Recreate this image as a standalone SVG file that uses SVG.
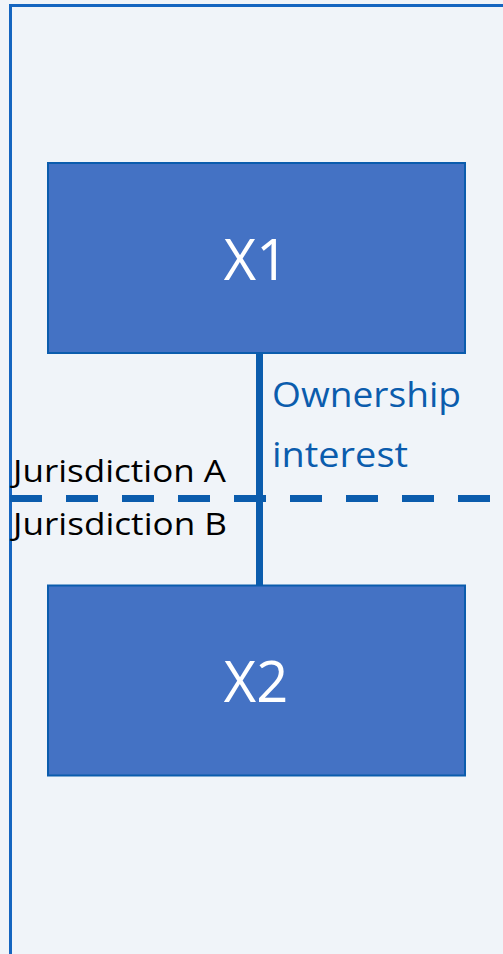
<svg xmlns="http://www.w3.org/2000/svg" width="503" height="954" viewBox="0 0 503 954">
  <style>
    .frame { fill: none; stroke: #1565c0; stroke-width: 3; }
    .box { fill: #4472c4; stroke: #0b5cad; stroke-width: 2; }
    .box-label { font-family: "Open Sans", "Noto Sans", sans-serif; font-size: 56px; fill: #ffffff; text-anchor: middle; }
    .link { stroke: #0b5cad; stroke-width: 7; fill: none; }
    .border-line { stroke: #0b5cad; stroke-width: 7; stroke-dasharray: 32 24; fill: none; }
    .side-label { font-family: "Open Sans", "Noto Sans", sans-serif; font-size: 31px; fill: #000000; }
    .link-label { font-family: "Open Sans", "Noto Sans", sans-serif; font-size: 34px; fill: #0b5cad; }
  </style>
  <rect x="0" y="0" width="503" height="954" fill="#f0f4f9"/>
  <rect class="frame" x="10.5" y="5.5" width="520" height="970"/>

  <g id="connectors">
    <line class="link" x1="259.5" y1="353" x2="259.5" y2="585"/>
    <line class="border-line" x1="10" y1="498.5" x2="503" y2="498.5"/>
  </g>

  <g id="x1">
    <rect class="box" x="48" y="163" width="417" height="190"/>
    <text class="box-label" x="256" y="280">X1</text>
  </g>

  <g id="x2">
    <rect class="box" x="48" y="585.5" width="417" height="190"/>
    <text class="box-label" x="256" y="702">X2</text>
  </g>

  <g id="ownership-label">
    <text class="link-label" x="272" y="407" textLength="189" lengthAdjust="spacingAndGlyphs">Ownership</text>
    <text class="link-label" x="272" y="467" textLength="136" lengthAdjust="spacingAndGlyphs">interest</text>
  </g>

  <g id="jurisdictions">
    <text class="side-label" x="13" y="482" textLength="213" lengthAdjust="spacingAndGlyphs">Jurisdiction A</text>
    <text class="side-label" x="13" y="535" textLength="214" lengthAdjust="spacingAndGlyphs">Jurisdiction B</text>
  </g>
</svg>
